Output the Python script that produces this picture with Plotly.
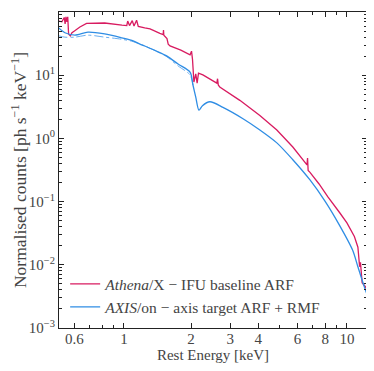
import plotly.graph_objects as go

# Athena/X-IFU baseline ARF
e_athena = [0.51, 0.527, 0.54, 0.545, 0.55, 0.555, 0.56, 0.565, 0.575, 0.585, 0.60, 0.635, 0.68,
            0.75, 0.82, 0.98, 1.03, 1.04, 1.06, 1.09, 1.11, 1.14, 1.16, 1.24, 1.31, 1.45, 1.50,
            1.505, 1.51, 1.56, 1.58, 1.61, 1.80, 1.98, 2.01, 2.03, 2.06, 2.10, 2.13, 2.16, 2.26,
            2.61, 2.63, 2.65, 2.69, 3.31, 4.07, 4.85, 5.72, 6.62, 6.66, 6.70, 6.83, 7.5, 8.2, 9.3,
            10.0, 10.8, 11.2, 11.4, 11.5, 11.7, 12.1, 12.3]
c_athena = [72, 70, 82, 65, 84, 70, 84, 45, 42, 47, 50, 58, 66,
            67, 67, 62, 61, 72, 61, 73, 60, 74, 59, 56, 54, 46, 44,
            52, 43, 38, 31, 29, 25, 21, 24, 18, 7.8, 10.5, 7.5, 10.8, 10.1,
            7.5, 8.8, 7.0, 6.5, 4.0, 2.3, 1.36, 0.73, 0.38, 0.49, 0.31, 0.29, 0.19, 0.12, 0.066,
            0.046, 0.028, 0.019, 0.0093, 0.011, 0.0052, 0.0045, 0.004]

# AXIS on-axis target ARF + RMF
e_axis = [0.51, 0.544, 0.603, 0.69, 0.82, 0.98, 1.10, 1.18, 1.24, 1.40, 1.56, 1.75, 1.98, 2.04,
          2.10, 2.17, 2.25, 2.43, 2.78, 3.42, 4.07, 4.85, 5.72, 6.83, 8.0, 9.2, 10.6, 11.2, 11.8, 12.3]
c_axis = [56, 47, 43, 48, 45, 39, 35, 31, 29, 24, 20, 15, 11.2, 7,
          4.5, 2.8, 3.3, 3.8, 3.1, 2.05, 1.36, 0.85, 0.46, 0.22, 0.10, 0.044, 0.0171, 0.0093, 0.0052, 0.0034]

# AXIS second (dash-dot) curve
e_axis2 = [0.51, 0.544, 0.603, 0.69, 0.82, 0.98, 1.10, 1.24, 1.40, 1.56, 1.75, 1.98, 2.04]
c_axis2 = [42, 40, 40, 43, 40, 37, 34, 29, 24, 19.5, 14, 10.1, 7]

x_ticks = [0.6, 1, 2, 3, 4, 6, 8, 10]
x_minor = [0.7, 0.8, 0.9, 5, 7, 9]
y_ticks = [1e-3, 1e-2, 1e-1, 1, 10, 100]
y_labels = ["10<sup>−3</sup>", "10<sup>−2</sup>", "10<sup>−1</sup>", "10<sup>0</sup>", "10<sup>1</sup>", "10<sup>2</sup>"]
y_minor = [m * 10 ** p for p in range(-3, 2) for m in range(2, 10)]

red = "#d81b60"
blue = "#2f8de4"

fig = go.Figure()
fig.add_trace(go.Scatter(x=e_axis2, y=c_axis2, mode="lines", showlegend=False,
                         line=dict(color="#6aaef0", width=1, dash="dashdot", shape="spline", smoothing=0.8)))
fig.add_trace(go.Scatter(x=e_athena, y=c_athena, mode="lines",
                         name="<i>Athena</i>/X − IFU baseline ARF",
                         line=dict(color=red, width=1.3)))
fig.add_trace(go.Scatter(x=e_axis, y=c_axis, mode="lines",
                         name="<i>AXIS</i>/on − axis target ARF + RMF",
                         line=dict(color=blue, width=1.3, shape="spline", smoothing=0.8)))

axis_common = dict(showline=True, linecolor="#222", linewidth=1.2, mirror="allticks",
                   ticks="inside", ticklen=5, tickcolor="#222", showgrid=False, zeroline=False,
                   automargin=False, tickfont=dict(size=15, color="#444"))

fig.update_xaxes(type="log", range=[-0.291, 1.09], tickvals=x_ticks,
                 ticktext=[str(v) for v in x_ticks], ticklabelstandoff=-3,
                 minor=dict(tickvals=x_minor, ticks="inside", ticklen=3, tickcolor="#222"),
                 title=dict(text="Rest Energy [keV]", font=dict(size=15, color="#444"), standoff=0),
                 **axis_common)
fig.update_yaxes(type="log", range=[-3, 2], tickvals=y_ticks, ticktext=y_labels,
                 minor=dict(tickvals=y_minor, ticks="inside", ticklen=3, tickcolor="#222"),
                 title=dict(text="Normalised counts [ph s<sup>−1</sup> keV<sup>−1</sup>]",
                            font=dict(size=17.5, color="#444"), standoff=2),
                 **axis_common)

# page body adds an 8px offset, so the figure is drawn 8px smaller
fig.update_layout(
    width=366, height=363,
    margin=dict(l=51, r=7, t=4, b=43),
    plot_bgcolor="white", paper_bgcolor="white",
    font=dict(family="Liberation Serif", color="#444"),
    legend=dict(x=0.02, y=0.012, xanchor="left", yanchor="bottom", bgcolor="rgba(0,0,0,0)",
                font=dict(size=15.5, color="#444"), tracegroupgap=0),
)

fig.write_html("out.html")
